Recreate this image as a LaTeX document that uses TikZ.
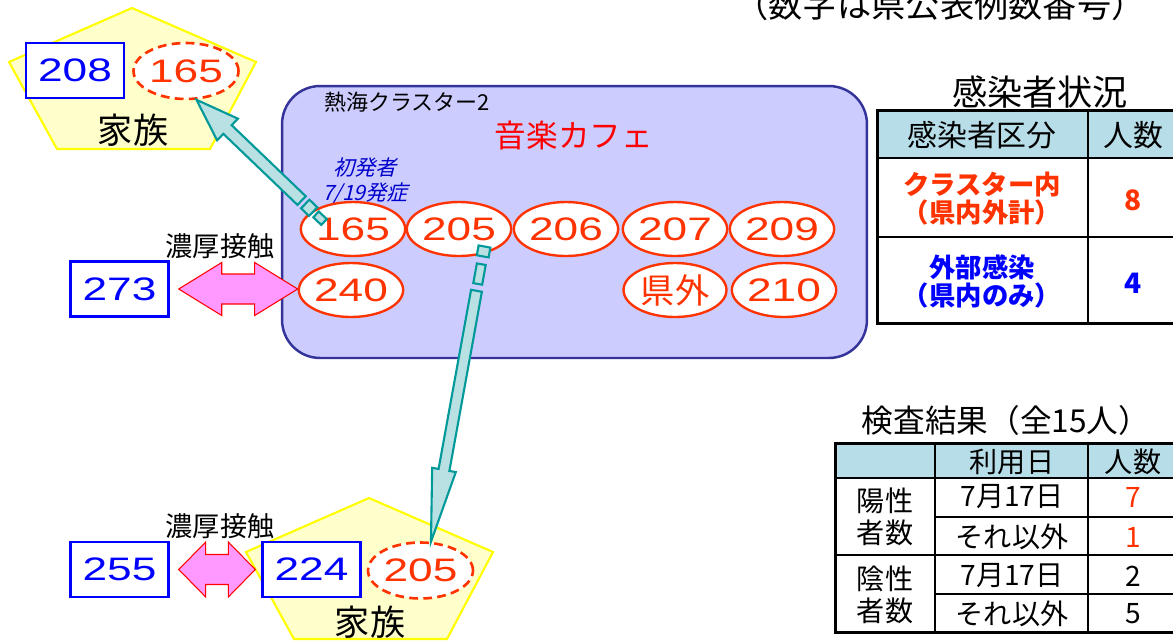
\documentclass[tikz,border=0pt]{standalone}
\usepackage{fontspec}
\setmainfont{Noto Sans CJK JP}
\newfontfamily\numfont[FakeStretch=1.36]{Liberation Sans}
\newfontfamily\slantfont[FakeSlant=0.25]{Noto Sans CJK JP}
\usetikzlibrary{arrows,shapes,positioning,calc}
\definecolor{cblue}{RGB}{0,0,255}
\definecolor{cred}{RGB}{255,51,0}
\definecolor{cnavy}{RGB}{0,0,204}
\definecolor{cpink}{RGB}{255,153,255}
\definecolor{cyellow}{RGB}{255,255,0}
\definecolor{clightyellow}{RGB}{255,255,204}
\definecolor{clusterfill}{RGB}{204,204,255}
\definecolor{clusterline}{RGB}{51,51,153}
\definecolor{tealline}{RGB}{0,153,153}
\definecolor{tealfill}{RGB}{185,224,226}
\definecolor{tablehead}{RGB}{183,222,232}
\tikzstyle{casebox} = [rectangle, draw=cblue, line width=1.4pt, fill=white, minimum width=1.96cm, minimum height=1.1cm, inner sep=0pt, text=cblue, font=\numfont\fontsize{18.5}{20}\selectfont]
\tikzstyle{caseoval} = [ellipse, draw=cred, line width=1.35pt, fill=white, minimum width=2.06cm, minimum height=1.08cm, inner sep=0pt, text=cred, font=\numfont\fontsize{18.5}{20}\selectfont]
\tikzstyle{familyoval} = [caseoval, minimum width=2.1cm, minimum height=1.12cm, line width=1.5pt, dash pattern=on 5pt off 3pt]
\tikzstyle{family} = [fill=clightyellow, draw=cyellow, line width=1.2pt]
\tikzstyle{cluster} = [rectangle, rounded corners=0.76cm, minimum width=11.7cm, minimum height=5.44cm, draw=clusterline, fill=clusterfill, line width=1.4pt]
\tikzstyle{contact} = [fill=cpink, draw=red, line width=0.6pt, line join=miter]
\tikzstyle{spread} = [fill=tealfill, draw=tealline, line width=1.2pt, line join=miter]
\tikzstyle{headtext} = [font=\fontsize{17}{19}\selectfont]
\tikzstyle{celltext} = [font=\fontsize{16}{18.5}\selectfont, align=center]
% block arrow with two heads, tips given
\newcommand{\contactarrow}[5]{%
  \draw[contact] (#1) -- ($(#1)+(#3,-#4)$) -- ($(#1)+(#3,-#5)$) -- ($(#2)+(-#3,-#5)$) -- ($(#2)+(-#3,-#4)$) -- (#2)
    -- ($(#2)+(-#3,#4)$) -- ($(#2)+(-#3,#5)$) -- ($(#1)+(#3,#5)$) -- ($(#1)+(#3,#4)$) -- cycle;}
% one piece of a broken shaft
\newcommand{\spreadbar}[5]{%
  \draw[spread] ($(#1)!#3!(#2)!#5!90:(#2)$) -- ($(#1)!#4!(#2)!#5!90:(#2)$)
    -- ($(#1)!#4!(#2)!#5!-90:(#2)$) -- ($(#1)!#3!(#2)!#5!-90:(#2)$) -- cycle;}
% shaft and head
\newcommand{\spreadarrow}[6]{%
  \draw[spread] ($(#1)!#3!(#2)!#5!90:(#2)$) -- ($(#2)!#4!(#1)!#5!-90:(#1)$) -- ($(#2)!#4!(#1)!#6!-90:(#1)$) -- (#2)
    -- ($(#2)!#4!(#1)!#6!90:(#1)$) -- ($(#2)!#4!(#1)!#5!90:(#1)$) -- ($(#1)!#3!(#2)!#5!-90:(#2)$) -- cycle;}
\begin{document}
\begin{tikzpicture}[x=0.02cm, y=-0.02cm]
\fill[white] (0,0) rectangle (1173,640);
\useasboundingbox (0,0) rectangle (1173,640);

% note at the top
\node[font=\fontsize{19.5}{21}\selectfont] (note) at (940,4) {（数字は県公表例数番号）};

% families
\draw[family] (132,8) -- (256,62) -- (210,149) -- (57,149) -- (9,62) -- cycle;
\draw[family] (369,498) -- (493,552) -- (447,639) -- (294,639) -- (246,552) -- cycle;

% cluster
\node[cluster] (cafe) at (574.5,222) {};
\node[anchor=west, font=\fontsize{12.5}{14}\selectfont] (clustername) at (318,102) {熱海クラスター2};
\node[text=red, font=\fontsize{18}{20}\selectfont] (venue) at (574,135) {音楽カフェ};
\node[align=center, text=cnavy, font=\slantfont\fontsize{12}{14}\selectfont] (first) at (365,181) {初発者\\7/19発症};

\node[caseoval] (o165) at (353,229) {165};
\node[caseoval] (o205) at (459,229) {205};
\node[caseoval] (o206) at (566,229) {206};
\node[caseoval] (o207) at (675,229) {207};
\node[caseoval] (o209) at (782,229) {209};
\node[caseoval] (o240) at (351,290) {240};
\node[caseoval, font=\fontsize{19.5}{21}\selectfont] (okengai) at (675,290) {県外};
\node[caseoval] (o210) at (784,290) {210};

% outside the cluster
\node[casebox] (b208) at (75,70.5) {208};
\node[familyoval] (f165) at (186,71) {165};
\node[font=\fontsize{20}{22}\selectfont] (fam1) at (133,130) {家族};

\node[casebox] (b273) at (119.5,289) {273};
\node[font=\fontsize{15.5}{17}\selectfont] (close1) at (220,246) {濃厚接触};

\node[casebox] (b255) at (119.5,569.5) {255};
\node[casebox] (b224) at (311.5,569.5) {224};
\node[familyoval] (f205) at (420.5,570.5) {205};
\node[font=\fontsize{20}{22}\selectfont] (fam2) at (370,622) {家族};
\node[font=\fontsize{15.5}{17}\selectfont] (close2) at (220,526) {濃厚接触};

% close contacts
\coordinate (c1l) at ($(b273.east)+(9,0)$);
\coordinate (c1r) at (o240.west |- c1l);
\contactarrow{c1l}{c1r}{43}{26.5}{15}
\coordinate (c2l) at ($(b255.east)+(9,0)$);
\coordinate (c2r) at ($(b224.west)+(-6,0)$);
\contactarrow{c2l}{c2r}{27}{27.5}{15}

% spread to families
\coordinate (s1tail) at ($(o165.center)+(-29,-7)$);
\coordinate (s1tip) at (f165.290);
\spreadbar{s1tail}{s1tip}{0cm}{0.22cm}{0.08cm}
\spreadbar{s1tail}{s1tip}{0.3cm}{0.52cm}{0.12cm}
\spreadarrow{s1tail}{s1tip}{0.62cm}{0.86cm}{0.12cm}{0.3cm}
\coordinate (s2tail) at ($(o205.center)+(25.5,17.5)$);
\coordinate (s2tip) at (f205.70);
\spreadbar{s2tail}{s2tip}{0cm}{0.2cm}{0.12cm}
\spreadbar{s2tail}{s2tip}{0.36cm}{0.76cm}{0.09cm}
\spreadarrow{s2tail}{s2tip}{0.9cm}{1.46cm}{0.11cm}{0.24cm}

% infection status table
\node[font=\fontsize{20}{22}\selectfont] (statustitle) at (1040,92) {感染者状況};
\fill[tablehead] (877,110) rectangle (1178,158);
\draw[line width=1.1pt] (877,158) -- (1178,158) (877,237) -- (1178,237) (1088,110) -- (1088,323);
\draw[line width=1.7pt] (877,110) rectangle (1178,323);
\node[headtext] (kubun) at (982,135) {感染者区分};
\node[headtext] (ninzu1) at (1133,135) {人数};
\node[font=\bfseries\fontsize{15}{16}\selectfont, align=center, text=cred] (inside) at (982,199) {クラスター内\\（県内外計）};
\node[font=\bfseries\fontsize{16}{18}\selectfont, text=cred] (n8) at (1133,200) {8};
\node[font=\bfseries\fontsize{15}{16}\selectfont, align=center, text=cblue] (outside) at (982,281) {外部感染\\（県内のみ）};
\node[font=\bfseries\fontsize{16}{18}\selectfont, text=cblue] (n4) at (1133,283) {4};

% test result table
\node[font=\fontsize{18}{20}\selectfont] (testtitle) at (1006,420) {検査結果（全15人）};
\fill[tablehead] (835,443) rectangle (1178,478);
\draw[line width=1.1pt] (835,478) -- (1178,478) (935,517) -- (1178,517) (835,555) -- (1178,555) (935,594) -- (1178,594)
  (935,443) -- (935,632) (1088,443) -- (1088,632);
\draw[line width=1.7pt] (835,443) rectangle (1178,632);
\node[celltext] (riyoubi) at (1012,462) {利用日};
\node[celltext] (ninzu2) at (1133,462) {人数};
\node[celltext] (pos) at (885,517) {陽性\\者数};
\node[celltext] (neg) at (885,595) {陰性\\者数};
\node[celltext] (pday) at (1012,497) {7月17日};
\node[celltext] (pother) at (1012,537) {それ以外};
\node[celltext] (nday) at (1012,576) {7月17日};
\node[celltext] (nother) at (1012,614) {それ以外};
\node[celltext, text=cred] (n7) at (1133,497) {7};
\node[celltext, text=cred] (n1) at (1133,537) {1};
\node[celltext] (n2) at (1133,576) {2};
\node[celltext] (n5) at (1133,614) {5};
\end{tikzpicture}
\end{document}
